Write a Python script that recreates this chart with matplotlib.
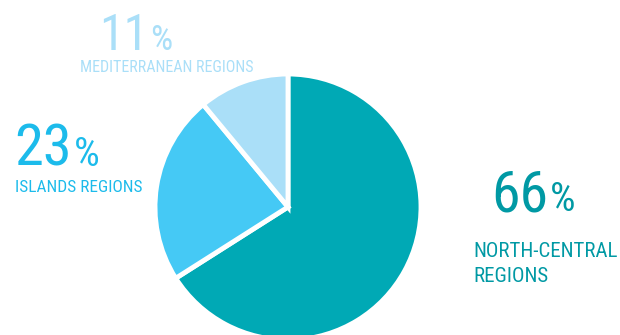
import matplotlib
matplotlib.use("Agg")
import matplotlib.pyplot as plt
from matplotlib import font_manager

# shares of regions
labels = [["NORTH-CENTRAL", "REGIONS"], ["ISLANDS REGIONS"], ["MEDITERRANEAN REGIONS"]]
values = [66, 23, 11]
colors = ["#00A9B5", "#45C9F5", "#AADFF8"]
text_colors = ["#0099A4", "#1CBBEB", "#AADFF8"]

names = {f.name for f in font_manager.fontManager.ttflist}
fam = [n for n in ["Roboto Condensed", "Liberation Sans Narrow", "DejaVu Sans Condensed"] if n in names]
fam = fam + ["Roboto", "DejaVu Sans"]

W, H = 620, 335
fig = plt.figure(figsize=(W / 100, H / 100), dpi=100)
ax = fig.add_axes([0, 0, 1, 1])
ax.pie(values, colors=colors, startangle=90, counterclock=False,
       center=(288, H - 207), radius=133,
       wedgeprops=dict(edgecolor="white", linewidth=3.5))
ax.set_xlim(0, W)
ax.set_ylim(0, H)
ax.axis("off")


def px(x, y):
    return x / W, 1 - y / H


renderer = fig.canvas.get_renderer()

# number x, number baseline, digit size, label x, label baselines, label size
spots = [
    (491, 211, 41.5, 473, [257, 282], 15.0),   # 66
    (14, 166, 42, 15, [192], 12.4),            # 23
    (99, 50, 36, 80, [72], 11.5),              # 11
]
for i, (nx, ny, dsize, lx, lys, lsize) in enumerate(spots):
    c = text_colors[i]
    t = fig.text(*px(nx, ny), str(values[i]), color=c, family=fam,
                 fontsize=dsize, ha="left", va="baseline")
    right = t.get_window_extent(renderer).x1
    fig.text((right + 2) / W, 1 - ny / H, "%", color=c, family=fam,
             fontsize=dsize * 0.7, ha="left", va="baseline")
    for line, ly in zip(labels[i], lys):
        fig.text(*px(lx, ly), line, color=c, family=fam,
                 fontsize=lsize, ha="left", va="baseline")

fig.savefig("out.png", dpi=100)
